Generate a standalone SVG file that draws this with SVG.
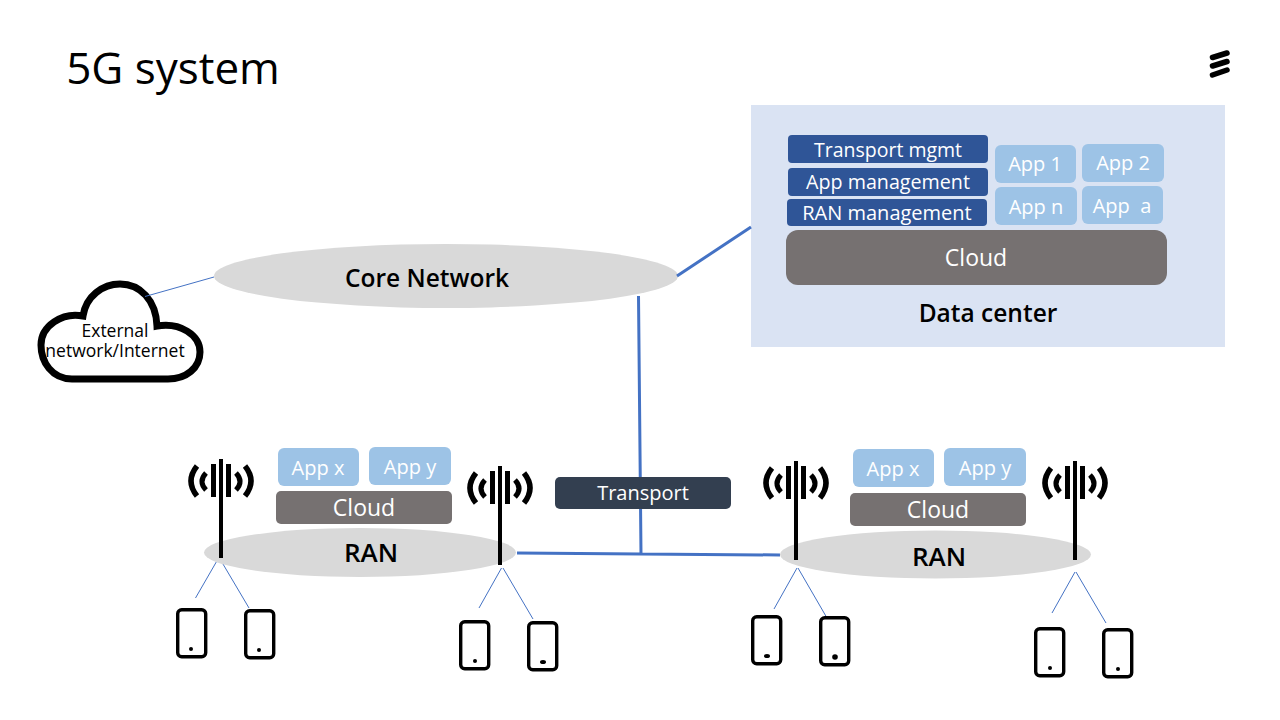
<svg xmlns="http://www.w3.org/2000/svg" width="1280" height="720" viewBox="0 0 1280 720">
<style>
text{font-family:"Open Sans","Noto Sans","Liberation Sans",sans-serif;text-anchor:middle}
.w{fill:#fff;font-size:20px}
.c{fill:#fff;font-size:23px}
.k{fill:#000}
.b{font-weight:600}
.ell{fill:#d9d9d9}
.app{fill:#9dc3e6}
.cl{fill:#767171}
.mg{fill:#2f5597}
.thick{stroke:#4472c4;stroke-width:3;fill:none}
.thin{stroke:#4472c4;stroke-width:1;fill:none}
</style>
<defs>
<g id="ant" fill="none" stroke="#000">
<path d="M0 0V99" stroke-width="4"/>
<path d="M-7.500 5V38M7.500 5V38" stroke-width="5"/>
<path d="M-15 14Q-23 22.500 -15 31M15 14Q23 22.500 15 31" stroke-width="5"/>
<path d="M-24 7Q-36 22 -24 37M24 7Q36 22 24 37" stroke-width="5.500"/>
</g>
<rect id="ph" x="1.700" y="1.700" width="28" height="47" rx="4" fill="#fff" stroke="#000" stroke-width="3.400"/>
</defs>
<text x="173" y="84" font-size="44" class="k">5G system</text>
<g id="logo" stroke="#000" stroke-width="5.500" stroke-linecap="round"><path d="M1212.500 57.500L1227 53M1212.500 66L1227 61.500M1212.500 75L1227 70"/></g>
<g id="cloud-ext">
<path d="M72 379H168C186 379 200 368 200 352C200 335 180 322 157 326C156 300 140 284 120 284C103 284 86 296 83 316C62 312 41 326 41 345C41 362 52 379 72 379Z" fill="#fff" stroke="#000" stroke-width="7"/>
<text font-size="17.500" class="k"><tspan x="115" y="337">External</tspan><tspan x="115" y="357">network/Internet</tspan></text>
</g>
<g id="core"><ellipse class="ell" cx="446" cy="276" rx="232" ry="32"/><text x="427" y="287" font-size="24.500" class="k b">Core Network</text></g>
<g id="datacenter">
<rect x="751" y="105" width="474" height="242" fill="#dae3f3"/>
<rect class="mg" x="788" y="135" width="200" height="28" rx="4"/><text class="w" x="888" y="157" style="font-size:19.500px">Transport mgmt</text>
<rect class="mg" x="788" y="168" width="200" height="28" rx="4"/><text class="w" x="888" y="189" style="font-size:19.700px">App management</text>
<rect class="mg" x="787" y="199" width="200" height="27" rx="4"/><text class="w" x="887" y="220">RAN management</text>
<rect class="app" x="995" y="145" width="81" height="38" rx="6"/><text class="w" x="1035" y="171">App 1</text>
<rect class="app" x="1082" y="144" width="82" height="38" rx="6"/><text class="w" x="1123" y="170">App 2</text>
<rect class="app" x="995" y="187" width="82" height="38" rx="6"/><text class="w" x="1036" y="214">App n</text>
<rect class="app" x="1082" y="186" width="81" height="38" rx="6"/><text class="w" x="1122" y="213" xml:space="preserve">App  a</text>
<rect class="cl" x="786" y="230" width="381" height="55" rx="12"/><text class="c" x="976" y="266">Cloud</text>
<text x="988" y="322" font-size="24.500" class="k b">Data center</text>
</g>
<g id="connectors">
<path class="thick" d="M638.500 296L641 554M517 553L780 555M677 276L751 227"/>
<path class="thin" d="M145 296.500L214 277M218 559L195.500 598M220 559L249 608M501.500 568L479 608M503 568L533 619M797 568L774 609M798 568L827 618M1075 572L1052 613M1076 572L1106 623"/>
</g>
<g id="transport"><rect x="555" y="477" width="176" height="32" rx="5" fill="#333f50"/><text class="w" x="643" y="500">Transport</text></g>
<g id="ran-left">
<ellipse class="ell" cx="360" cy="552.500" rx="156" ry="24.500"/>
<text x="371" y="562" font-size="26" class="k b">RAN</text>
<rect class="app" x="278" y="448" width="81" height="38" rx="6"/><text class="w" x="318" y="475">App x</text>
<rect class="app" x="369" y="447" width="82" height="38" rx="6"/><text class="w" x="410" y="474">App y</text>
<rect class="cl" x="276" y="491" width="176" height="33" rx="5"/><text class="c" x="364" y="516">Cloud</text>
</g>
<g id="ran-right">
<ellipse class="ell" cx="935.500" cy="554.500" rx="155.500" ry="24"/>
<text x="939" y="566" font-size="26" class="k b">RAN</text>
<rect class="app" x="853" y="449" width="81" height="38" rx="6"/><text class="w" x="893" y="476">App x</text>
<rect class="app" x="944" y="448" width="82" height="38" rx="6"/><text class="w" x="985" y="475">App y</text>
<rect class="cl" x="850" y="493" width="176" height="33" rx="5"/><text class="c" x="938" y="518">Cloud</text>
</g>
<g id="antennas">
<use href="#ant" x="221" y="459"/>
<use href="#ant" x="500" y="466"/>
<use href="#ant" x="796" y="461"/>
<use href="#ant" x="1075" y="461"/>
</g>
<g id="phones">
<use href="#ph" x="176" y="608"/><circle cx="191" cy="649" r="2"/>
<use href="#ph" x="244" y="609"/><circle cx="259" cy="650" r="2"/>
<use href="#ph" x="459" y="620"/><circle cx="475" cy="661" r="2"/>
<use href="#ph" x="527" y="621"/><ellipse cx="543" cy="662" rx="3" ry="2"/>
<use href="#ph" x="751" y="615"/><ellipse cx="767" cy="656" rx="3" ry="2"/>
<use href="#ph" x="819" y="616"/><circle cx="835" cy="657" r="2.800"/>
<use href="#ph" x="1034" y="627"/><circle cx="1050" cy="668" r="2"/>
<use href="#ph" x="1102" y="628"/><circle cx="1118" cy="669" r="2"/>
</g>
</svg>
